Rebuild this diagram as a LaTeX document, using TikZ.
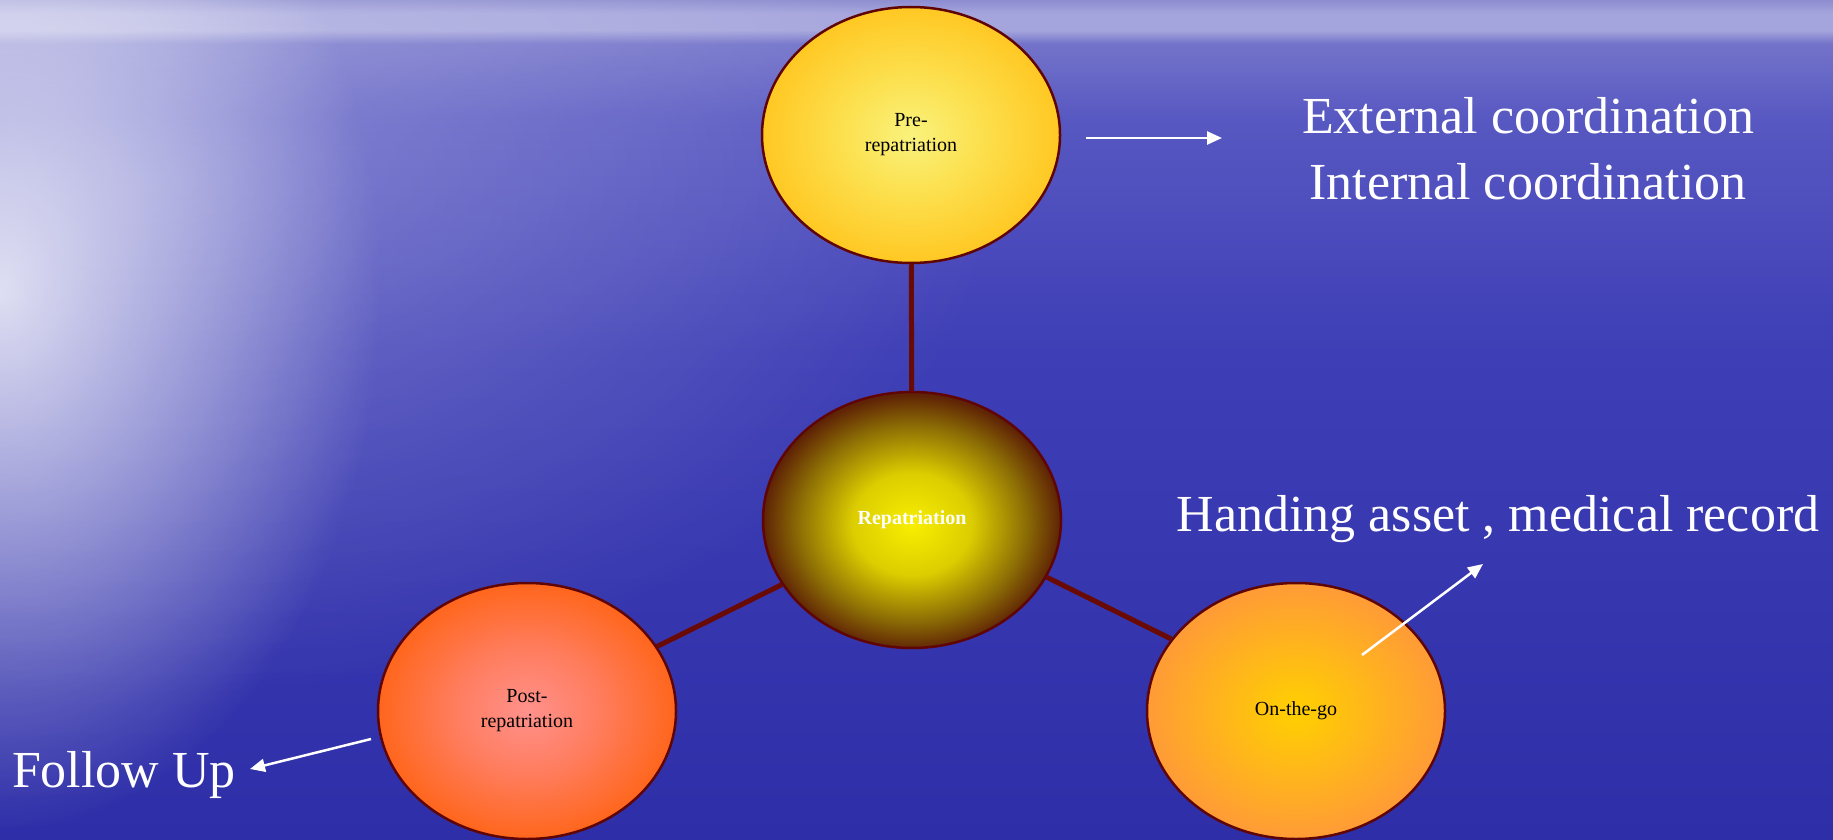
\documentclass[tikz,border=0pt]{standalone}
\usepackage{fontspec}
\setmainfont{Liberation Serif}
\usetikzlibrary{arrows.meta,shapes.geometric,fadings}

\definecolor{rim}{RGB}{95,5,5}
\definecolor{stem}{RGB}{105,10,5}
\definecolor{seatop}{RGB}{140,140,208}
\definecolor{seaband}{RGB}{165,165,221}
\definecolor{seaband0}{RGB}{115,115,202}
\definecolor{seahigh}{RGB}{88,88,194}
\definecolor{seamid}{RGB}{62,62,182}
\definecolor{seabot}{RGB}{46,46,168}
\definecolor{prein}{RGB}{249,242,125}
\definecolor{premid}{RGB}{252,225,80}
\definecolor{preout}{RGB}{255,200,35}
\definecolor{hubin}{RGB}{248,238,0}
\definecolor{hubmid}{RGB}{220,205,0}
\definecolor{hubdark}{RGB}{140,110,5}
\definecolor{hubout}{RGB}{95,35,5}
\definecolor{postin}{RGB}{255,145,140}
\definecolor{postmid}{RGB}{255,125,95}
\definecolor{postout}{RGB}{255,102,28}
\definecolor{goin}{RGB}{255,208,0}
\definecolor{goout}{RGB}{255,155,55}

\pgfdeclareverticalshading{sea}{100bp}{color(0bp)=(seabot); color(25bp)=(seabot); color(54bp)=(seamid); color(68bp)=(seahigh); color(72.4bp)=(seaband0); color(73.2bp)=(seaband); color(74.2bp)=(seaband); color(75bp)=(seatop); color(100bp)=(seatop)}
\pgfdeclareradialshading{prefill}{\pgfpoint{0bp}{0bp}}{color(0bp)=(prein); color(11bp)=(premid); color(25bp)=(preout); color(50bp)=(preout)}
\pgfdeclareradialshading{hubfill}{\pgfpoint{0bp}{-1bp}}{color(0bp)=(hubin); color(10bp)=(hubmid); color(19bp)=(hubdark); color(25bp)=(hubout); color(50bp)=(hubout)}
\pgfdeclareradialshading{postfill}{\pgfpoint{0bp}{0bp}}{color(0bp)=(postin); color(12bp)=(postmid); color(25bp)=(postout); color(50bp)=(postout)}
\pgfdeclareradialshading{gofill}{\pgfpoint{0bp}{0bp}}{color(0bp)=(goin); color(25bp)=(goout); color(50bp)=(goout)}

\tikzfading[name=glowfade, inner color=transparent!22, outer color=transparent!100]
\tikzfading[name=hazefade, inner color=transparent!72, outer color=transparent!100]

\tikzset{
  bubble/.style={ellipse, draw=rim, line width=2.5pt, minimum width=298pt,
    minimum height=256pt, inner sep=0pt, align=center,
    font=\fontsize{20}{25}\selectfont},
  link/.style={draw=stem, line width=5pt},
  pointer/.style={white, line width=2.5pt, -{Triangle[length=15pt,width=13pt]}},
  bigtext/.style={text=white, inner sep=0pt, font=\fontsize{52}{62}\selectfont}
}

\begin{document}
\begin{tikzpicture}[x=1pt,y=-1pt]

% sea
\begin{scope}
\clip (0,0) rectangle (1833,840);
\shade[shading=sea] (0,0) rectangle (1833,840);
\fill[white, path fading=hazefade] (150,180) ellipse [x radius=850, y radius=520];
\fill[white, path fading=glowfade] (0,290) ellipse [x radius=380, y radius=540];
\end{scope}
\useasboundingbox (0,0) rectangle (1833,840);

\node[bubble, shading=prefill] (pre) at (911,135) {Pre-\\repatriation};
\node[bubble, shading=hubfill, text=white, font=\bfseries\fontsize{20}{25}\selectfont] (hub) at (912,520) {Repatriation};
\node[bubble, shading=postfill] (post) at (527,711) {Post-\\repatriation};
\node[bubble, shading=gofill] (go) at (1296,711) {On-the-go};

\draw[link] (pre) -- (hub);
\draw[link] (hub) -- (post);
\draw[link] (hub.-23) -- (go.150);

\node[bigtext, anchor=base] (extc) at (1528,134) {External coordination};
\node[bigtext, anchor=base] (intc) at (1528,199) {Internal coordination};
\node[bigtext, anchor=base] (hand) at (1498,531) {Handing asset , medical record};
\node[bigtext, anchor=base] (follow) at (124,787) {Follow Up};

\coordinate (preA) at (1086,138);
\coordinate (preB) at (1222,138);
\coordinate (fuA) at (371,739);
\coordinate (fuB) at (250,769);
\coordinate (hdA) at (1362,655);
\coordinate (hdB) at (1483,564);

\draw[pointer] (preA) -- (preB);
\draw[pointer] (fuA) -- (fuB);
\draw[pointer] (hdA) -- (hdB);

\end{tikzpicture}
\end{document}
